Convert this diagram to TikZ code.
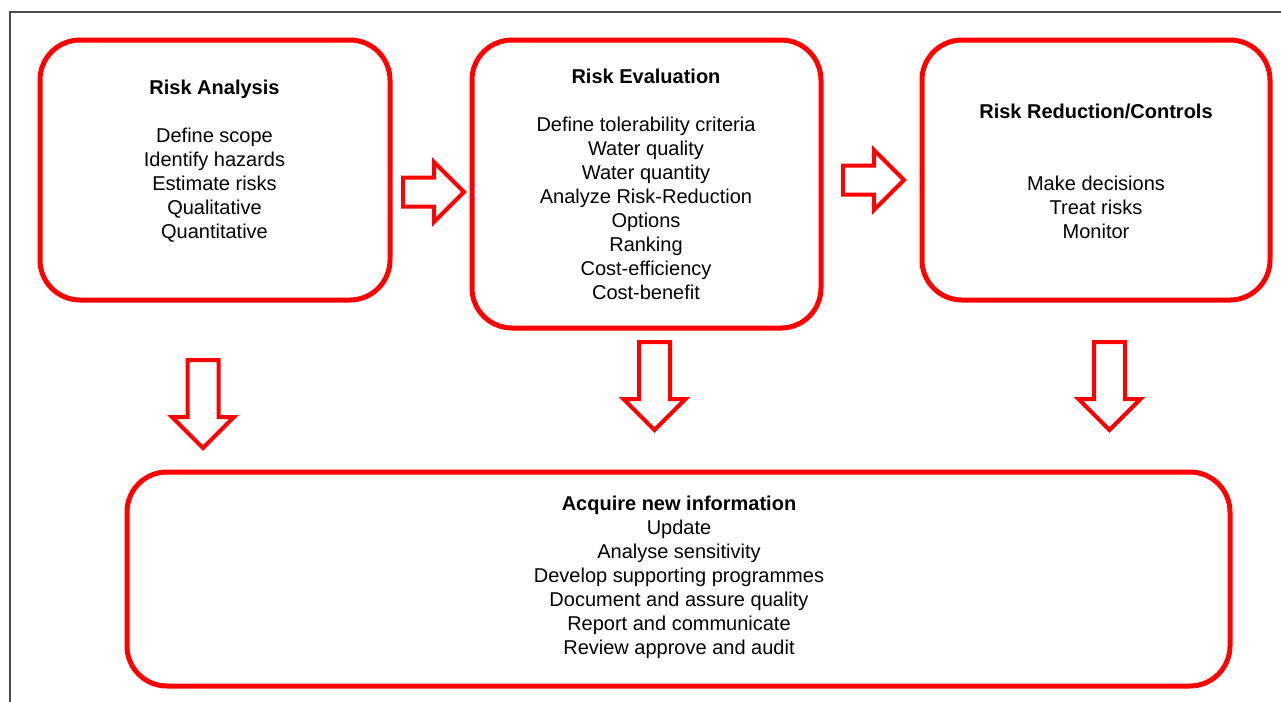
\documentclass[tikz,border=0pt]{standalone}
\usepackage{fontspec}
\setmainfont{Liberation Sans}
\usetikzlibrary{shapes.arrows, positioning}

\begin{document}
\begin{tikzpicture}[
    x=0.5pt, y=-0.5pt,
    stage/.style={rectangle, draw=red, line width=2.5pt, rounded corners=20pt, inner sep=0pt},
    stagetext/.style={align=center, font=\fontsize{10}{12}\selectfont, inner sep=0pt},
    blockarrow/.style={single arrow, draw=red, line width=2pt, fill=white, anchor=tail,
        inner xsep=0pt, inner ysep=6.25pt,
        single arrow head extend=7.75pt, single arrow tip angle=90,
        minimum height=30.5pt},
    downarrow/.style={blockarrow, rotate=-90, inner ysep=6.75pt, minimum height=44pt}
]
    \useasboundingbox (0,0) rectangle (1281,702);
    % frame
    \draw[black!70, line width=0.7pt] (10,702) -- (10,12) -- (1281,12);

    % Stages
    \node[stage, minimum width=175pt, minimum height=130pt] (analysis) at (215,170) {};
    \node[stage, minimum width=174.5pt, minimum height=144pt] (evaluation) at (646.5,184) {};
    \node[stage, minimum width=174pt, minimum height=130pt] (reduction) at (1096,170) {};
    \node[stage, minimum width=551.5pt, minimum height=107pt] (acquire) at (678.5,579) {};

    % Stage texts
    \node[stagetext] (analysistext) at (214.5,161) {\textbf{Risk Analysis}\\[12pt]
        Define scope\\ Identify hazards\\ Estimate risks\\ Qualitative\\ Quantitative};
    \node[stagetext] (evaluationtext) at (646,184) {\textbf{Risk Evaluation}\\[12pt]
        Define tolerability criteria\\ Water quality\\ Water quantity\\ Analyze Risk-Reduction\\
        Options\\ Ranking\\ Cost-efficiency\\ Cost-benefit};
    \node[stagetext] (reductiontext) at (1096,171) {\textbf{Risk Reduction/Controls}\\[24pt]
        Make decisions\\ Treat risks\\ Monitor};
    \node[stagetext] (acquiretext) at (679,577) {\textbf{Acquire new information}\\
        Update\\ Analyse sensitivity\\ Develop supporting programmes\\ Document and assure quality\\
        Report and communicate\\ Review approve and audit};

    % Block arrows (placed by their tails)
    \node[blockarrow] (ana2eva) at (401,192) {};
    \node[blockarrow] (eva2red) at (841,180) {};
    \node[downarrow] (ana2acq) at (203,358) {};
    \node[downarrow] (eva2acq) at (654.5,340) {};
    \node[downarrow] (red2acq) at (1109.5,340) {};
\end{tikzpicture}
\end{document}
